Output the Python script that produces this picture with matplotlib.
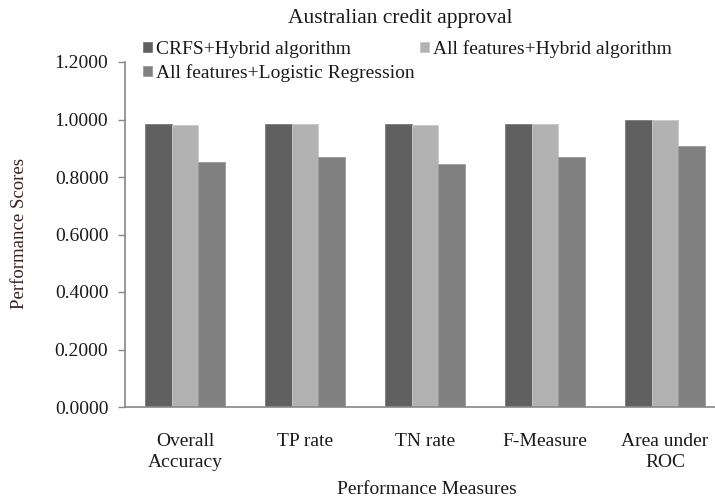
import matplotlib
matplotlib.use("Agg")
import matplotlib.pyplot as plt
import numpy as np

categories = ["Overall\nAccuracy", "TP rate", "TN rate", "F-Measure", "Area under\nROC"]
series_names = ["CRFS+Hybrid algorithm", "All features+Hybrid algorithm",
                "All features+Logistic Regression"]
crfs_hybrid = [0.985, 0.986, 0.986, 0.986, 0.999]
all_hybrid = [0.980, 0.986, 0.981, 0.986, 0.999]
all_logreg = [0.853, 0.869, 0.846, 0.869, 0.907]
yticks = [0.0, 0.2, 0.4, 0.6, 0.8, 1.0, 1.2]

colors = ["#606060", "#b2b2b2", "#808080"]
edges = ["#7a7a7a", "#c8c8c8", "#9a9a9a"]

plt.rcParams['font.family'] = ['Liberation Serif', 'DejaVu Serif']

fig = plt.figure(figsize=(7.15, 4.97), dpi=100)
W, H = 715, 497
ax = fig.add_axes([125 / W, 1 - 407 / H, 600 / W, (407 - 62) / H])

x = np.arange(len(categories))
bw = 0.222
data = [crfs_hybrid, all_hybrid, all_logreg]
bars = []
for i, (vals, c, e) in enumerate(zip(data, colors, edges)):
    b = ax.bar(x + (i - 1) * bw, vals, width=bw, color=c, edgecolor=e,
               linewidth=0.6, label=series_names[i])
    bars.append(b)

ax.set_xlim(-0.5, 4.5)
ax.set_ylim(0, 1.2)
ax.set_yticks(yticks)
ax.set_yticklabels([f"{v:.4f}" for v in yticks], fontsize=14, color="#1a1a1a")
ax.set_xticks(x)
ax.set_xticklabels(categories, fontsize=14, color="#1a1a1a", linespacing=1.35)
ax.tick_params(axis='x', length=0, pad=18.5)
ax.tick_params(axis='y', length=5, color="#888888", width=1, pad=7)
for s in ["top", "right"]:
    ax.spines[s].set_visible(False)
for s in ["left", "bottom"]:
    ax.spines[s].set_color("#888888")
    ax.spines[s].set_linewidth(1.2)

fig.text(20 / W, 1 - 233 / H, "Performance Scores", fontsize=13.5, rotation=90,
         ha="center", va="center", color="#3a2020")
fig.text(427 / W, 1 - 490 / H, "Performance Measures", fontsize=14, ha="center",
         va="center", color="#1a1a1a")
fig.text(400 / W, 1 - 19 / H, "Australian credit approval", fontsize=15.5, ha="center",
         va="center", color="#1a1a1a")

handles = [bars[0], bars[2], bars[1]]
labels = [series_names[0], series_names[2], series_names[1]]
leg = fig.legend(handles, labels, ncol=2, loc="upper left",
                 bbox_to_anchor=(143 / W, 1 - 40 / H), frameon=False,
                 fontsize=14, handlelength=0.45, handleheight=0.45,
                 handletextpad=0.2, columnspacing=0.3, labelspacing=0.33,
                 borderaxespad=0, borderpad=0)
for t in leg.get_texts():
    t.set_color("#1a1a1a")

fig.savefig("out.png", dpi=100)
